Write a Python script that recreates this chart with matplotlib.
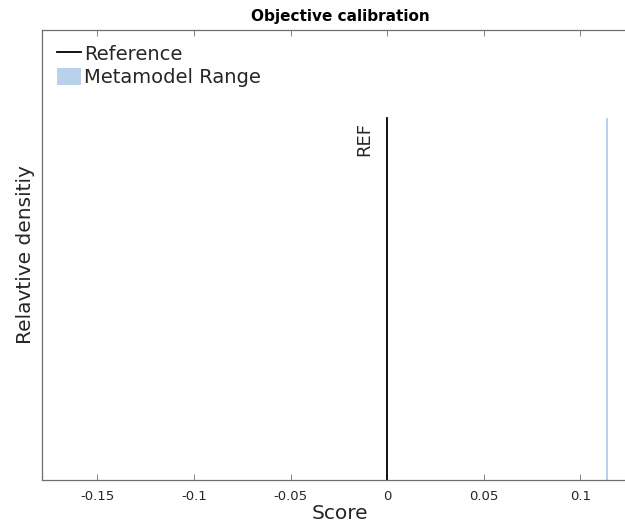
import matplotlib
matplotlib.use("Agg")
import matplotlib.pyplot as plt
from matplotlib.lines import Line2D
from matplotlib.patches import Patch

# data
ref_score = 0.0
meta_range = [0.1132, 0.1144]
density_top = 1.0
xticks = [-0.15, -0.1, -0.05, 0, 0.05, 0.1]
xticklabels = ["-0.15", "-0.1", "-0.05", "0", "0.05", "0.1"]

dark = "#262626"
spine_col = "#6e6e6e"
blue = "#b9d1ea"

fig = plt.figure(figsize=(6.25, 5.28), dpi=100)
ax = fig.add_axes([0.0672, 0.0909, 0.9536, 0.853])

# metamodel range and reference line
ax.fill_between(meta_range, 0, density_top, color=blue, linewidth=0)
ax.plot([ref_score, ref_score], [0, density_top], color="black", linewidth=1.3)
ax.text(ref_score - 0.0072, density_top - 0.01, "REF", rotation=90, ha="right", va="top",
        fontsize=13, color=dark)

ax.set_xlim(-0.1786, 0.1298)
ax.set_ylim(0, 1.244)
ax.set_xticks(xticks)
ax.set_xticklabels(xticklabels)
ax.set_yticks([])
ax.tick_params(axis="x", direction="in", top=True, labelsize=9.5, labelcolor=dark,
               color=spine_col, length=4, width=0.6, pad=7)
for s in ax.spines.values():
    s.set_color(spine_col)
    s.set_linewidth(0.9)
ax.spines["right"].set_visible(False)

ax.set_xlabel("Score", fontsize=14.5, color=dark, labelpad=1)
ax.set_ylabel("Relavtive densitiy", fontsize=14.5, color=dark, labelpad=5)
ax.set_title("Objective calibration", fontsize=11, fontweight="bold", color="black", pad=6)

handles = [Line2D([], [], color="black", linewidth=1.3),
           Patch(facecolor=blue, edgecolor="none")]
ax.legend(handles, ["Reference", "Metamodel Range"], loc="upper left", frameon=False,
          fontsize=14, handlelength=1.25, handleheight=1.0, handletextpad=0.15,
          borderaxespad=0.4, labelspacing=0.22, borderpad=0.35, labelcolor=dark)

fig.savefig("out.png", dpi=100)
